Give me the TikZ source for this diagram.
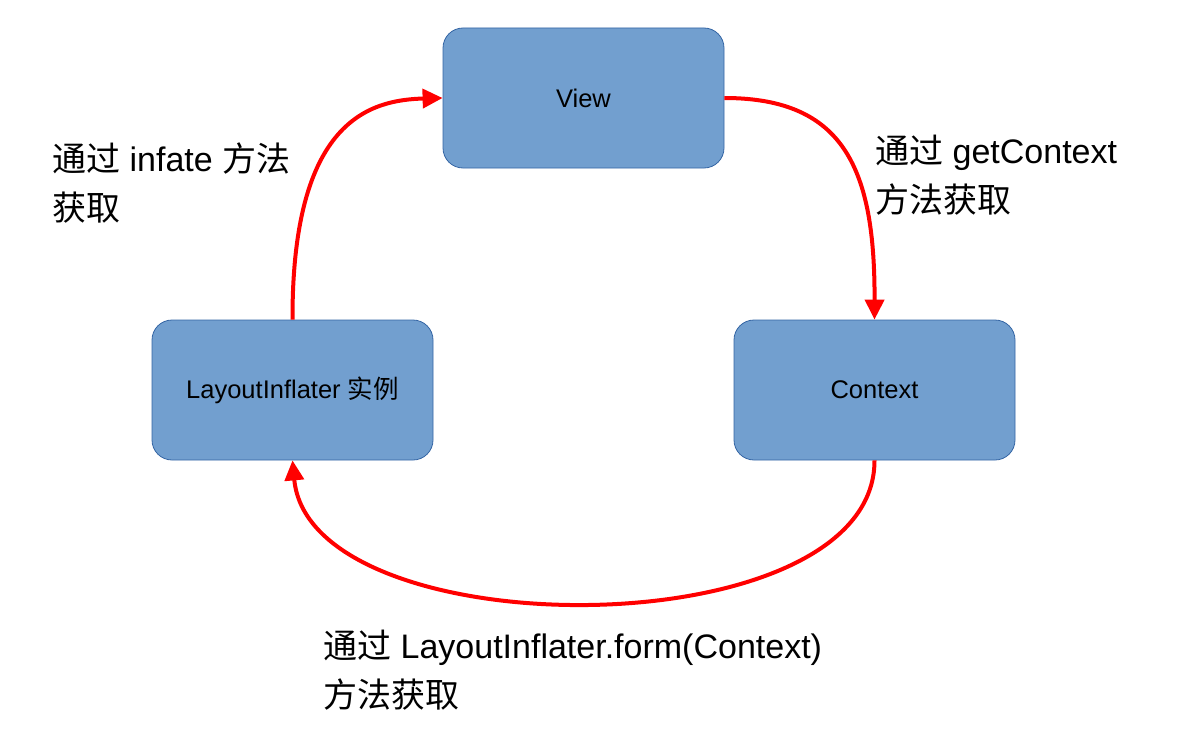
\documentclass[tikz,border=0pt]{standalone}
\usepackage{fontspec}
\setmainfont{Liberation Sans}
\newfontfamily\cjk{Noto Sans CJK SC}
\usepackage{xcolor}
\usepackage{tikz}
\usetikzlibrary{arrows.meta}

\definecolor{boxfill}{HTML}{729FCF}
\definecolor{boxline}{HTML}{3465A4}

\begin{document}
\begin{tikzpicture}[x=1pt, y=-1pt,
    box/.style={draw=boxline, line width=0.8pt, fill=boxfill, rounded corners=20pt,
      minimum width=281pt, minimum height=140pt, inner sep=0pt,
      font=\fontsize{25.5}{30}\selectfont},
    link/.style={draw=red, line width=4pt, -{Triangle[length=20pt,width=19pt]}},
    note/.style={anchor=north west, align=left, inner sep=0pt,
      font=\fontsize{34}{49}\selectfont}]
\useasboundingbox (0,0) rectangle (1188,749);

% Boxes
\node[box] (view) at (583.5,98) {View};
\node[box] (inflater) at (292.5,390) {LayoutInflater {\cjk 实例}};
\node[box] (context) at (874.5,390) {Context};

% Arrows
\draw[link] (inflater.north) .. controls (292,120) and (370,100) .. (view.west);
\draw[link] (view.east) .. controls (845,98) and (875,170) .. (context.north);
\draw[link] (context.south) .. controls (875,650) and (310,650) .. (inflater.south);

% Labels
\node[note] (getinflater) at (52,143) {{\cjk 通过} infate {\cjk 方法}\\{\cjk 获取}};
\node[note] (getcontext) at (875,135) {{\cjk 通过} getContext\\{\cjk 方法获取}};
\node[note] (getfrom) at (323,630) {{\cjk 通过} LayoutInflater.form(Context)\\{\cjk 方法获取}};

\end{tikzpicture}
\end{document}
